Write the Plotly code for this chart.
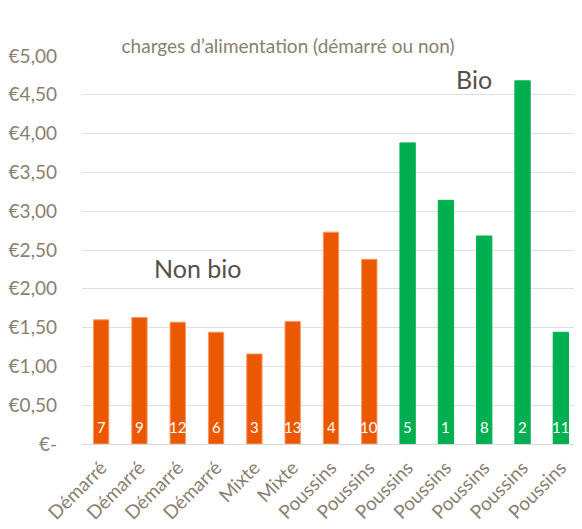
import plotly.graph_objects as go

categories = ["Démarré", "Démarré", "Démarré", "Démarré", "Mixte", "Mixte",
              "Poussins", "Poussins", "Poussins", "Poussins", "Poussins", "Poussins", "Poussins"]
values = [1.60, 1.63, 1.57, 1.44, 1.16, 1.58, 2.73, 2.38, 3.88, 3.14, 2.68, 4.68, 1.44]
ids = ["7", "9", "12", "6", "3", "13", "4", "10", "5", "1", "8", "2", "11"]
groups = ["Non bio"] * 8 + ["Bio"] * 5
y_tickvals = [0, 0.5, 1.0, 1.5, 2.0, 2.5, 3.0, 3.5, 4.0, 4.5, 5.0]
y_ticktext = ["€-", "€0,50", "€1,00", "€1,50", "€2,00", "€2,50", "€3,00",
              "€3,50", "€4,00", "€4,50", "€5,00"]
group_labels = ["Non bio", "Bio"]
group_label_x = [2.51, 9.72]
group_label_y = [2.27, 4.70]

colors = {"Non bio": "#EC5800", "Bio": "#00B050"}
line_colors = {"Non bio": "#F39A66", "Bio": "#00B050"}
FONT = "Lato, Open Sans, sans-serif"
TXT = "#8A7F70"

xs = list(range(len(categories)))
fig = go.Figure()
fig.add_trace(go.Bar(
    x=xs, y=values,
    marker=dict(color=[colors[g] for g in groups],
                line=dict(color=[line_colors[g] for g in groups], width=1)),
    width=0.4,
    hoverinfo="skip",
))

annotations = []
for x, v, t in zip(xs, values, ids):
    annotations.append(dict(x=x, y=0, xref="x", yref="y", text=t, showarrow=False,
                            yanchor="bottom", yshift=6,
                            font=dict(family=FONT, size=15, color="white")))
for lab, lx, ly in zip(group_labels, group_label_x, group_label_y):
    annotations.append(dict(x=lx, y=ly, xref="x", yref="y", text=lab, showarrow=False,
                            font=dict(family=FONT, size=25, color="#55504A")))

fig.update_layout(
    width=574, height=521,
    margin=dict(l=74, r=2, t=48, b=85),
    paper_bgcolor="white", plot_bgcolor="white",
    showlegend=False,
    title=dict(text="charges d’alimentation (démarré ou non)", x=0.488, xanchor="center",
               y=0.927, yanchor="middle", yref="container",
               font=dict(family=FONT, size=19, color=TXT)),
    xaxis=dict(range=[-0.5, 12.5], tickvals=xs, ticktext=categories, tickangle=-45,
               showgrid=False, zeroline=False, showline=False, ticks="",
               automargin=False, ticklabelstandoff=8,
               tickfont=dict(family=FONT, size=19, color=TXT)),
    yaxis=dict(range=[0, 5], tickvals=y_tickvals, ticktext=y_ticktext,
               showgrid=True, gridcolor="#E0E0E0", gridwidth=1,
               zeroline=True, zerolinecolor="#D9D9D9", zerolinewidth=1,
               ticks="", ticklabelstandoff=24, automargin=False,
               tickfont=dict(family=FONT, size=19, color=TXT)),
    annotations=annotations,
)

fig.write_html("out.html")
